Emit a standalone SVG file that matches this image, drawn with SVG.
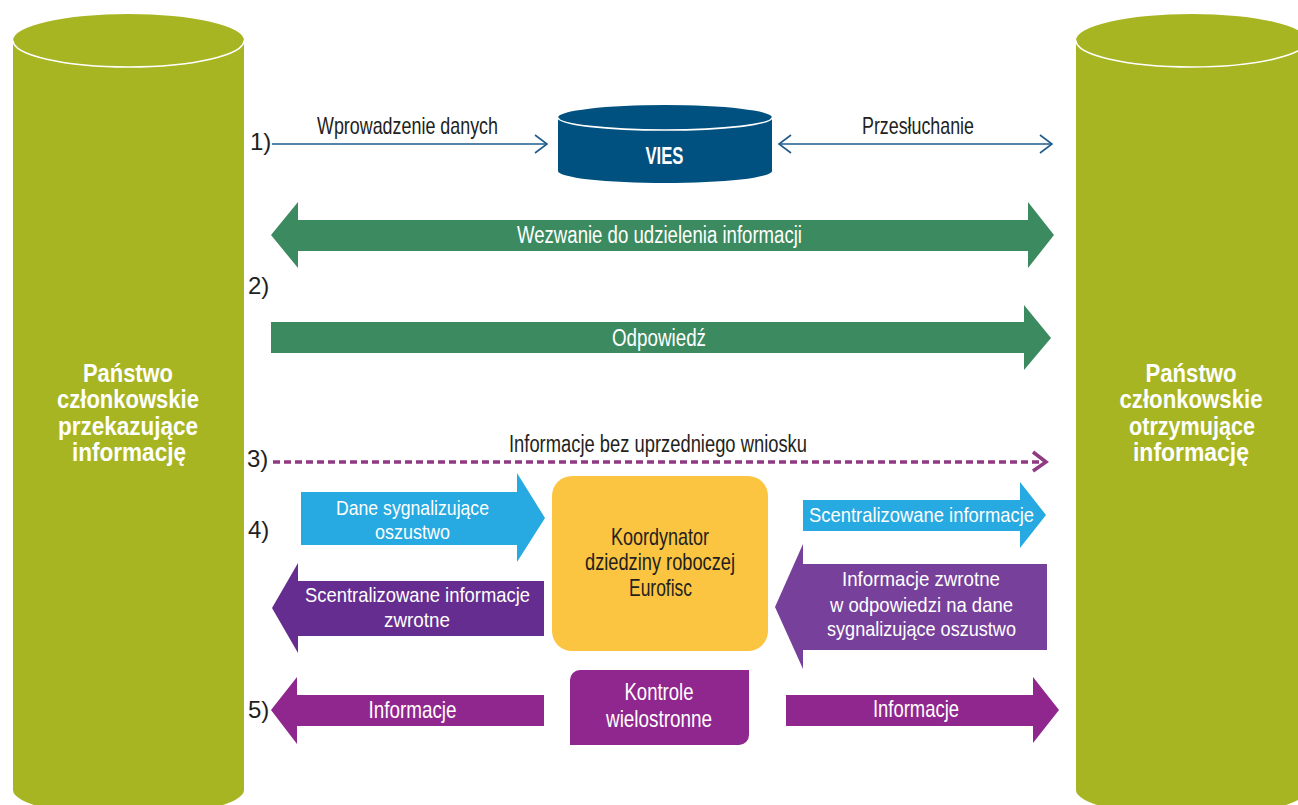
<svg xmlns="http://www.w3.org/2000/svg" width="1298" height="805" viewBox="0 0 1298 805">
<style>
text{font-family:"Liberation Sans Narrow","Liberation Sans",Arial,sans-serif;}
.d{fill:#231f20;}
.w{fill:#ffffff;}
.b{font-weight:bold;}
.s21{font-size:21px;}
.s23{font-size:23px;}
.s24{font-size:24px;}
.s26{font-size:26px;}
.m{text-anchor:middle;}
.cyl{fill:#a8b522;}
.sep{fill:none;stroke:#ffffff;stroke-width:1.6;}
.thin{fill:none;stroke:#1f5c8e;stroke-width:1.6;}
.dash{fill:none;stroke:#8f3a83;stroke-width:3.5;}
</style>

<g id="state-left">
<path class="cyl" d="M13,40.5 A115.5,26.5 0 0 1 244,40.5 L244,790 A115.5,26 0 0 1 13,790 Z"/>
<path class="sep" d="M13,40.5 A115.5,26.5 0 0 0 244,40.5"/>
<text class="w b s26 m" x="128" y="382" textLength="90" lengthAdjust="spacingAndGlyphs">Państwo</text>
<text class="w b s26 m" x="128" y="408" textLength="142" lengthAdjust="spacingAndGlyphs">członkowskie</text>
<text class="w b s26 m" x="128" y="435" textLength="140" lengthAdjust="spacingAndGlyphs">przekazujące</text>
<text class="w b s26 m" x="129" y="461" textLength="114" lengthAdjust="spacingAndGlyphs">informację</text>
</g>

<g id="state-right">
<path class="cyl" d="M1076,40.5 A115.5,26.5 0 0 1 1307,40.5 L1307,790 A115.5,26 0 0 1 1076,790 Z"/>
<path class="sep" d="M1076,40.5 A115.5,26.5 0 0 0 1307,40.5"/>
<text class="w b s26 m" x="1191" y="382" textLength="91" lengthAdjust="spacingAndGlyphs">Państwo</text>
<text class="w b s26 m" x="1191" y="408" textLength="143" lengthAdjust="spacingAndGlyphs">członkowskie</text>
<text class="w b s26 m" x="1192" y="435" textLength="126" lengthAdjust="spacingAndGlyphs">otrzymujące</text>
<text class="w b s26 m" x="1191" y="461" textLength="116" lengthAdjust="spacingAndGlyphs">informację</text>
</g>

<g id="vies">
<path fill="#00517f" d="M558,117.5 A107,12.5 0 0 1 772,117.5 L772,171 A107,12 0 0 1 558,171 Z"/>
<path class="sep" d="M558,117.5 A107,12.5 0 0 0 772,117.5"/>
<text class="w b s24 m" x="664.5" y="164" textLength="38" lengthAdjust="spacingAndGlyphs">VIES</text>
</g>

<g id="eurofisc">
<rect x="552" y="476" width="216" height="175" rx="20" ry="20" fill="#fcc541"/>
<text class="d s24 m" x="660" y="545" textLength="98" lengthAdjust="spacingAndGlyphs">Koordynator</text>
<text class="d s24 m" x="660" y="570" textLength="150" lengthAdjust="spacingAndGlyphs">dziedziny roboczej</text>
<text class="d s24 m" x="660.5" y="596" textLength="63" lengthAdjust="spacingAndGlyphs">Eurofisc</text>
</g>

<g id="kontrole">
<path fill="#90278e" d="M580,670 L749,670 L749,735 A10,10 0 0 1 739,745 L570,745 L570,680 A10,10 0 0 1 580,670 Z"/>
<text class="w s24 m" x="659" y="700" textLength="69" lengthAdjust="spacingAndGlyphs">Kontrole</text>
<text class="w s24 m" x="659" y="727" textLength="106" lengthAdjust="spacingAndGlyphs">wielostronne</text>
</g>

<g id="step-numbers">
<text class="d s24" x="250" y="150">1)</text>
<text class="d s24" x="248" y="294">2)</text>
<text class="d s24" x="247" y="467">3)</text>
<text class="d s24" x="248" y="538">4)</text>
<text class="d s24" x="248" y="718">5)</text>
</g>

<g id="connectors">
<g id="c1-input">
<line class="thin" x1="272" y1="144" x2="546" y2="144"/>
<polyline class="thin" points="535,135 547,144 535,153"/>
<text class="d s24 m" x="407.5" y="134" textLength="181" lengthAdjust="spacingAndGlyphs">Wprowadzenie danych</text>
</g>
<g id="c1-query">
<line class="thin" x1="780" y1="144" x2="1051" y2="144"/>
<polyline class="thin" points="791,135 779,144 791,153"/>
<polyline class="thin" points="1040,135 1052,144 1040,153"/>
<text class="d s24 m" x="918" y="134" textLength="112" lengthAdjust="spacingAndGlyphs">Przesłuchanie</text>
</g>
<g id="c2-request">
<polygon fill="#3b8a60" points="271,235 298,202 298,220 1028,220 1028,202 1054,235 1028,268 1028,251 298,251 298,268"/>
<text class="w s23 m" x="659.5" y="243" textLength="285" lengthAdjust="spacingAndGlyphs">Wezwanie do udzielenia informacji</text>
</g>
<g id="c2-answer">
<polygon fill="#3b8a60" points="271,322 1024,322 1024,305 1051,338 1024,370 1024,353 271,353"/>
<text class="w s23 m" x="659" y="346" textLength="94" lengthAdjust="spacingAndGlyphs">Odpowiedź</text>
</g>
<g id="c3-spontaneous">
<line class="dash" x1="273" y1="462" x2="1044" y2="462" stroke-dasharray="7 4"/>
<polyline class="dash" points="1033,452 1046,462 1033,471"/>
<text class="d s23 m" x="658" y="452" textLength="298" lengthAdjust="spacingAndGlyphs">Informacje bez uprzedniego wniosku</text>
</g>
<g id="c4-signal">
<polygon fill="#27a9e1" points="301,492 517,492 517,473 545,518 517,562 517,545 301,545"/>
<text class="w s21 m" x="412.5" y="515" textLength="153" lengthAdjust="spacingAndGlyphs">Dane sygnalizujące</text>
<text class="w s21 m" x="412.5" y="539" textLength="75" lengthAdjust="spacingAndGlyphs">oszustwo</text>
</g>
<g id="c4-feedback-left">
<polygon fill="#652d8f" points="272,608 298,563 298,581 544,581 544,636 298,636 298,653"/>
<text class="w s21 m" x="417.5" y="602" textLength="225" lengthAdjust="spacingAndGlyphs">Scentralizowane informacje</text>
<text class="w s21 m" x="417" y="627" textLength="66" lengthAdjust="spacingAndGlyphs">zwrotne</text>
</g>
<g id="c4-central-right">
<polygon fill="#27a9e1" points="803,500 1020,500 1020,482 1046,515 1020,548 1020,531 803,531"/>
<text class="w s21 m" x="921.5" y="522" textLength="225" lengthAdjust="spacingAndGlyphs">Scentralizowane informacje</text>
</g>
<g id="c4-feedback-right">
<polygon fill="#77419b" points="775,607 803,544 803,564 1047,564 1047,650 803,650 803,669"/>
<text class="w s21 m" x="921" y="586" textLength="158" lengthAdjust="spacingAndGlyphs">Informacje zwrotne</text>
<text class="w s21 m" x="921.5" y="612" textLength="183" lengthAdjust="spacingAndGlyphs">w odpowiedzi na dane</text>
<text class="w s21 m" x="921.5" y="636" textLength="189" lengthAdjust="spacingAndGlyphs">sygnalizujące oszustwo</text>
</g>
<g id="c5-left">
<polygon fill="#90278e" points="271,710 297,677 297,695 544,695 544,726 297,726 297,744"/>
<text class="w s24 m" x="412.5" y="718" textLength="88" lengthAdjust="spacingAndGlyphs">Informacje</text>
</g>
<g id="c5-right">
<polygon fill="#90278e" points="786,695 1033,695 1033,677 1059,710 1033,743 1033,726 786,726"/>
<text class="w s24 m" x="916" y="717" textLength="86" lengthAdjust="spacingAndGlyphs">Informacje</text>
</g>
</g>
</svg>
